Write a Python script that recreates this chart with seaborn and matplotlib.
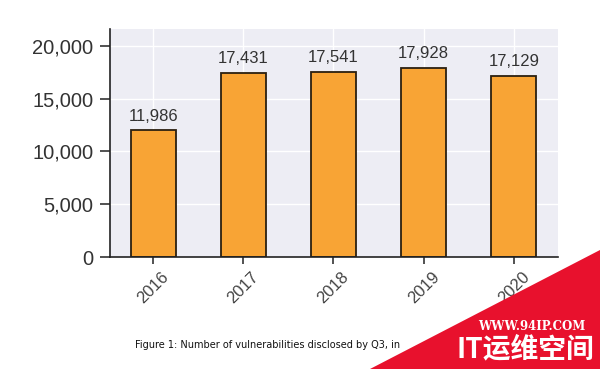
import matplotlib
matplotlib.use("Agg")
import matplotlib.pyplot as plt
import matplotlib.ticker as mticker
from matplotlib.patches import Polygon
import seaborn as sns
import pandas as pd

years = ["2016", "2017", "2018", "2019", "2020"]
counts = [11986, 17431, 17541, 17928, 17129]
caption = "Figure 1: Number of vulnerabilities disclosed by Q3, in"

sns.set_style("darkgrid", {"axes.facecolor": "#EDEDF4", "grid.color": "white"})
plt.rcParams["font.family"] = ["Liberation Sans", "DejaVu Sans"]

df = pd.DataFrame({"year": years, "count": counts})

fig = plt.figure(figsize=(6.0, 3.69), dpi=100)
ax = fig.add_axes([0.183, 0.3035, 0.747, 0.618])
sns.barplot(data=df, x="year", y="count", color="#F8A435", saturation=1,
            edgecolor="#2b2010", linewidth=1.3, width=0.5, ax=ax)

ax.set_xlim(-0.48, 4.49)
ax.set_ylim(0, 21600)
ax.set_yticks([0, 5000, 10000, 15000, 20000])
ax.yaxis.set_major_formatter(mticker.FuncFormatter(lambda v, p: f"{int(v):,}"))
ax.set_xlabel("")
ax.set_ylabel("")
for s in ["top", "right"]:
    ax.spines[s].set_visible(False)
for s in ["left", "bottom"]:
    ax.spines[s].set_visible(True)
    ax.spines[s].set_color("#222222")
    ax.spines[s].set_linewidth(1.2)
ax.tick_params(axis="y", which="major", left=True, length=7, width=1.1,
               color="#222222", labelsize=14.5, labelcolor="#333333", pad=5)
ax.tick_params(axis="x", which="major", bottom=True, length=5, width=1.1,
               color="#222222", labelsize=12, labelcolor="#444444", pad=4)
for lab in ax.get_xticklabels():
    lab.set_rotation(45)
    lab.set_ha("center")
    lab.set_rotation_mode("default")
ax.grid(True, color="white", linewidth=1.0)
ax.set_axisbelow(True)

ax.bar_label(ax.containers[0], labels=[f"{v:,}" for v in counts],
             padding=5, fontsize=12, color="#333333")

fig.text(0.225, 0.058, caption, fontsize=7, family="DejaVu Sans", color="#111111")

# watermark in the bottom-right corner of the reference image
tri = Polygon([[370 / 600, 0], [1, 0], [1, 1 - 250 / 369]], closed=True,
              transform=fig.transFigure, facecolor="#E8112D", edgecolor="none", zorder=10)
fig.patches.append(tri)
fig.text(0.975, 1 - 326 / 369, "WWW.94IP.COM", fontsize=8.5, fontweight="bold",
         family="DejaVu Serif", color="white", ha="right", va="center", zorder=11)
fig.text(0.99, 1 - 349 / 369, "IT运维空间", fontsize=20, fontweight="bold",
         family=["Noto Sans CJK SC", "DejaVu Sans"], color="white", ha="right",
         va="center", zorder=11)

fig.savefig("out.png", dpi=100, facecolor="white")
